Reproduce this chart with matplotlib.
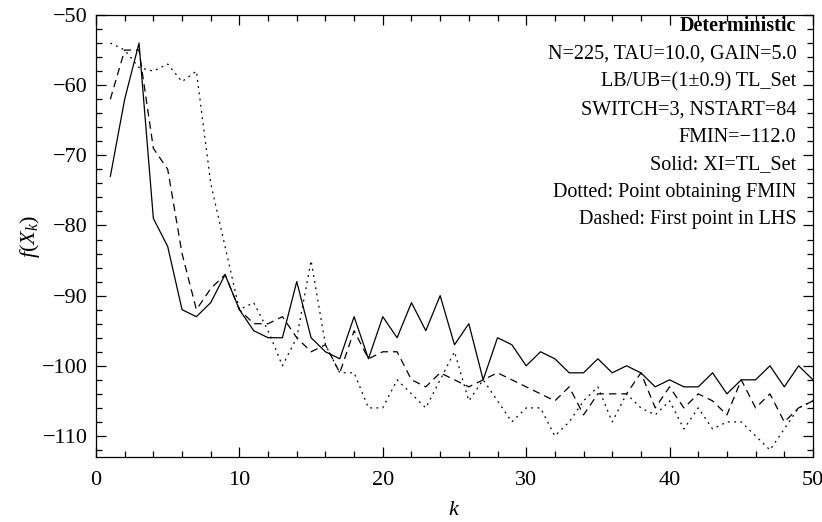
import numpy as np
import matplotlib
matplotlib.use('Agg')
import matplotlib.pyplot as plt
from matplotlib.ticker import MultipleLocator

plt.rcParams['font.family'] = ['Liberation Serif', 'DejaVu Serif']
plt.rcParams['mathtext.fontset'] = 'custom'
plt.rcParams['mathtext.rm'] = 'Liberation Serif'
plt.rcParams['mathtext.it'] = 'Liberation Serif:italic'

# Iteration index
k = np.arange(1, 51)

# Solid: XI=TL_Set
solid = [-73, -62, -54, -79, -83, -92, -93, -91, -87, -92,
         -95, -96, -96, -88, -96, -98, -99, -93, -99, -93,
         -96, -91, -95, -90, -97, -94, -102, -96, -97, -100,
         -98, -99, -101, -101, -99, -101, -100, -101, -103, -102,
         -103, -103, -101, -104, -102, -102, -100, -103, -100, -102]

# Dashed: first point in LHS
dashed = [-62, -55, -55, -69, -72, -84, -92, -89, -87, -92,
          -94, -94, -93, -96, -98, -97, -101, -95, -99, -98,
          -98, -102, -103, -101, -102, -103, -102, -101, -102, -103,
          -104, -105, -103, -107, -104, -104, -104, -101, -106, -103,
          -106, -104, -105, -107, -102, -106, -104, -108, -106, -105]

# Dotted: point obtaining FMIN
dotted = [-54, -55, -57.5, -58, -57, -59.5, -58, -74, -83, -92,
          -91, -95, -100, -96, -85, -97, -101, -101, -106, -106,
          -102, -104, -106, -102, -98, -105, -102, -105, -108, -106,
          -106, -110, -108, -105, -103, -108, -104, -106, -107, -105,
          -109, -106, -109, -108, -108, -110, -112, -109, -106, -105]

title_line = 'Deterministic'
info_lines = ['N=225, TAU=10.0, GAIN=5.0',
              'LB/UB=(1\u00b10.9) TL_Set',
              'SWITCH=3, NSTART=84',
              'FMIN=\u2212112.0',
              'Solid: XI=TL_Set',
              'Dotted: Point obtaining FMIN',
              'Dashed: First point in LHS']

fig = plt.figure(figsize=(8.22, 5.22), dpi=100)
ax = fig.add_axes([0.1168, 0.1245, 0.8722, 0.8468])

ax.plot(k, solid, color='black', lw=0.9, linestyle='-')
ax.plot(k, dashed, color='black', lw=0.9, linestyle=(0, (6, 4)))
ax.plot(k, dotted, color='black', lw=0.9, linestyle=(0, (1.5, 3.5)))

ax.set_xlim(0, 50)
ax.set_ylim(-113, -50)
ax.xaxis.set_major_locator(MultipleLocator(10))
ax.xaxis.set_minor_locator(MultipleLocator(2))
ax.yaxis.set_major_locator(MultipleLocator(10))
ax.yaxis.set_minor_locator(MultipleLocator(2))
ax.tick_params(which='both', direction='in', top=True, right=True, labelsize=16, width=0.9)
ax.tick_params(which='major', length=7)
ax.tick_params(which='minor', length=4)
ax.tick_params(axis='x', pad=10)
ax.tick_params(axis='y', pad=6)
for s in ax.spines.values():
    s.set_linewidth(0.9)

ax.set_xlabel('$k$', fontsize=16, labelpad=8)
ax.set_ylabel('$f(X_k)$', fontsize=16, labelpad=0)

# annotation block, right aligned, placed by baseline
x0, y0, dy = 0.977, 0.963, 0.0624
ax.text(x0, y0, title_line, transform=ax.transAxes, ha='right', va='baseline',
        fontsize=14.5, fontweight='bold')
for i, line in enumerate(info_lines):
    ax.text(x0, y0 - dy * (i + 1), line, transform=ax.transAxes,
            ha='right', va='baseline', fontsize=14.5)

fig.savefig('out.png', dpi=100)
